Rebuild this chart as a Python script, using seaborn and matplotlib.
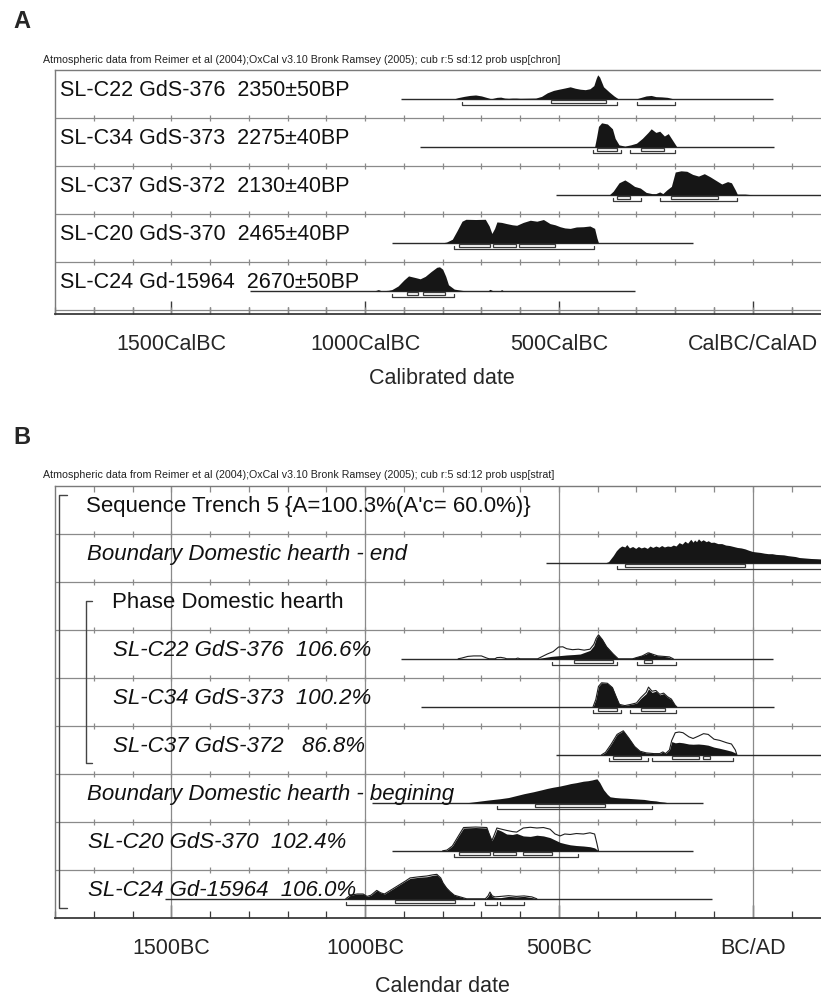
import numpy as np
import pandas as pd
import matplotlib
matplotlib.use("Agg")
import matplotlib.pyplot as plt
from matplotlib.patches import Rectangle
from matplotlib.ticker import FixedLocator, MultipleLocator, FixedFormatter
import seaborn as sns

sns.set_theme(style="white")
plt.rcParams['font.family'] = ['Liberation Sans', 'DejaVu Sans']

# ---------------- data ----------------
header_a = "Atmospheric data from Reimer et al (2004);OxCal v3.10 Bronk Ramsey (2005); cub r:5 sd:12 prob usp[chron]"
header_b = "Atmospheric data from Reimer et al (2004);OxCal v3.10 Bronk Ramsey (2005); cub r:5 sd:12 prob usp[strat]"
major_years = [-1500, -1000, -500, 0]
ticklabels_a = ["1500CalBC", "1000CalBC", "500CalBC", "CalBC/CalAD"]
ticklabels_b = ["1500BC", "1000BC", "500BC", "BC/AD"]
xlabel_a = "Calibrated date"
xlabel_b = "Calendar date"

labels_a = ["SL-C22 GdS-376  2350\u00b150BP", "SL-C34 GdS-373  2275\u00b140BP",
            "SL-C37 GdS-372  2130\u00b140BP", "SL-C20 GdS-370  2465\u00b140BP",
            "SL-C24 Gd-15964  2670\u00b150BP"]
span_a = [(-907, 51), (-858, 56), (-507, 300), (-931, -153), (-1297, -303)]

a_c22_year = [-770, -760, -745, -730, -715, -700, -685, -675, -660, -650, -640, -630, -620, -610, -600, -560,
              -545, -530, -514, -500, -485, -471, -458, -445, -432, -420, -410, -404, -400, -395, -385, -370,
              -358, -347, -300, -290, -275, -262, -250, -235, -220, -205]
a_c22_prob = [0, 0.05, 0.1, 0.14, 0.16, 0.12, 0.05, 0, 0.06, 0.07, 0.03, 0.02, 0.03, 0.03, 0.02, 0.03,
              0.1, 0.25, 0.35, 0.4, 0.45, 0.5, 0.44, 0.4, 0.38, 0.42, 0.55, 0.85, 1.0, 0.9, 0.5, 0.28,
              0.12, 0, 0, 0.05, 0.12, 0.14, 0.09, 0.08, 0.06, 0]
a_c22_r68 = [(-520, -379)]
a_c22_r95 = [(-751, -349), (-299, -200)]

a_c34_year = [-408, -403, -398, -390, -375, -362, -355, -345, -330, -315, -300, -285, -270, -262, -250, -240,
              -228, -218, -210, -200, -196]
a_c34_prob = [0, 0.4, 0.85, 1.0, 0.95, 0.75, 0.35, 0.08, 0.03, 0.08, 0.15, 0.35, 0.6, 0.75, 0.6, 0.65,
              0.45, 0.55, 0.35, 0.1, 0]
a_c34_r68 = [(-402, -350), (-288, -228)]
a_c34_r95 = [(-411, -340), (-318, -200)]

a_c37_year = [-370, -360, -345, -330, -318, -305, -290, -275, -260, -250, -240, -232, -222, -210, -200, -185,
              -170, -155, -140, -125, -110, -95, -80, -65, -55, -45, -40, -20, 0]
a_c37_prob = [0, 0.15, 0.5, 0.62, 0.5, 0.35, 0.28, 0.1, 0.05, 0.05, 0.12, 0.05, 0.2, 0.35, 0.95, 1.0,
              0.98, 0.85, 0.78, 0.88, 0.75, 0.6, 0.45, 0.55, 0.5, 0.2, 0.03, 0.03, 0]
a_c37_r68 = [(-351, -318), (-211, -89)]
a_c37_r95 = [(-361, -288), (-239, -40)]

a_c20_year = [-800, -790, -775, -763, -750, -740, -715, -690, -680, -673, -666, -660, -648, -635, -620, -609,
              -592, -574, -557, -540, -523, -510, -497, -485, -471, -455, -437, -420, -408, -402, -398]
a_c20_prob = [0, 0.03, 0.15, 0.5, 0.9, 0.98, 0.97, 0.98, 0.7, 0.39, 0.6, 0.87, 0.85, 0.8, 0.75, 0.73,
              0.85, 0.94, 0.9, 0.97, 0.8, 0.75, 0.67, 0.62, 0.6, 0.66, 0.67, 0.7, 0.6, 0.2, 0]
a_c20_r68 = [(-759, -679), (-671, -610), (-602, -509)]
a_c20_r95 = [(-770, -409)]

a_c24_year = [-975, -966, -958, -940, -931, -915, -900, -888, -870, -858, -845, -830, -815, -808, -800, -792,
              -785, -770, -751, -740, -683, -678, -670, -652, -648, -643]
a_c24_prob = [0, 0.05, 0, 0.02, 0.05, 0.2, 0.45, 0.62, 0.55, 0.5, 0.6, 0.8, 0.98, 1.0, 0.9, 0.6,
              0.25, 0.07, 0.02, 0, 0, 0.06, 0, 0, 0.05, 0]
a_c24_r68 = [(-893, -864), (-850, -795)]
a_c24_r95 = [(-931, -770)]

labels_b = ["Sequence Trench 5 {A=100.3%(A'c= 60.0%)}", "Boundary Domestic hearth - end",
            "Phase Domestic hearth", "SL-C22 GdS-376  106.6%", "SL-C34 GdS-373  100.2%",
            "SL-C37 GdS-372   86.8%", "Boundary Domestic hearth - begining",
            "SL-C20 GdS-370  102.4%", "SL-C24 Gd-15964  106.0%"]
italic_b = [False, True, False, True, True, True, True, True, True]
label_x_b = [-1719, -1717, -1652, -1650, -1650, -1650, -1717, -1714, -1714]
span_b = [None, (-533, 300), None, (-907, 51), (-856, 55), (-507, 300), (-981, -129), (-931, -153), (-1516, -106)]

b_end_year = [-380, -372, -360, -352, -345, -338, -330, -325, -318, -310, -302, -295, -288, -280, -272, -265,
              -258, -250, -242, -235, -228, -220, -212, -205, -198, -190, -182, -175, -168, -160, -154, -150,
              -145, -140, -134, -128, -120, -115, -108, -100, -90, -80, -70, -60, -50, -40, -30, -20, -10, 0,
              10, 20, 30, 40, 50, 60, 70, 80, 90, 100, 110, 120, 135, 150, 165, 176, 200]
b_end_prob = [0, 0.05, 0.3, 0.5, 0.62, 0.7, 0.66, 0.76, 0.62, 0.68, 0.6, 0.68, 0.62, 0.66, 0.6, 0.7,
              0.64, 0.7, 0.65, 0.72, 0.66, 0.7, 0.68, 0.74, 0.7, 0.84, 0.78, 0.9, 0.82, 0.98, 0.86, 0.95,
              0.88, 1.0, 0.9, 0.96, 0.88, 0.92, 0.85, 0.86, 0.8, 0.8, 0.74, 0.72, 0.68, 0.64, 0.62, 0.58, 0.52, 0.47,
              0.45, 0.43, 0.4, 0.38, 0.38, 0.35, 0.34, 0.33, 0.3, 0.28, 0.26, 0.22, 0.2, 0.18, 0.17, 0.16, 0.15]
b_end_r68 = [(-329, -20)]
b_end_r95 = [(-351, 400)]

b_c22_year = [-560, -540, -520, -500, -480, -460, -445, -420, -410, -404, -398, -388, -377, -360, -347,
              -315, -305, -290, -275, -267, -255, -240, -220, -205]
b_c22_prob = [0, 0.05, 0.1, 0.13, 0.16, 0.18, 0.2, 0.35, 0.55, 0.85, 1.0, 0.8, 0.5, 0.2, 0,
              0, 0.05, 0.12, 0.2, 0.28, 0.15, 0.12, 0.08, 0]
b_c22_prior_year = [-760, -751, -735, -720, -700, -686, -680, -665, -660, -650, -640, -635, -612, -606, -600,
                    -555, -545, -530, -515, -501, -490, -480, -465, -450, -435, -420, -410, -404, -398, -388,
                    -377, -360, -347, -310, -300, -285, -270, -260, -245, -230, -215, -205]
b_c22_prior_prob = [0, 0.03, 0.1, 0.12, 0.12, 0.03, 0, 0, 0.05, 0.06, 0.03, 0, 0, 0.03, 0,
                    0, 0.08, 0.2, 0.3, 0.49, 0.5, 0.42, 0.38, 0.4, 0.36, 0.4, 0.6, 0.85, 1.0, 0.8,
                    0.5, 0.2, 0, 0, 0.05, 0.12, 0.25, 0.2, 0.12, 0.1, 0.08, 0]
b_c22_r68 = [(-460, -360), (-280, -259)]
b_c22_r95 = [(-518, -349), (-299, -199)]

b_c34_year = [-412, -405, -398, -390, -375, -362, -352, -344, -330, -315, -300, -289, -275, -269, -260, -250,
              -240, -230, -220, -210, -200, -196]
b_c34_prob = [0, 0.3, 0.85, 1.0, 0.98, 0.8, 0.4, 0.1, 0.05, 0.1, 0.15, 0.35, 0.55, 0.75, 0.6, 0.65,
              0.5, 0.55, 0.4, 0.3, 0.05, 0]
b_c34_prior_prob = [0, 0.3, 0.85, 1.0, 0.98, 0.8, 0.4, 0.1, 0.05, 0.1, 0.16, 0.38, 0.6, 0.82, 0.65, 0.68,
                    0.52, 0.57, 0.42, 0.32, 0.06, 0]
b_c34_r68 = [(-400, -351), (-289, -226)]
b_c34_r95 = [(-411, -340), (-318, -199)]

b_c37_year = [-390, -380, -365, -350, -334, -320, -305, -291, -275, -255, -240, -232, -225, -215, -209, -200,
              -190, -180, -165, -154, -140, -127, -115, -100, -85, -67, -55, -45, -41]
b_c37_prob = [0, 0.1, 0.45, 0.85, 1.0, 0.7, 0.35, 0.15, 0.08, 0.05, 0.05, 0.12, 0.05, 0.2, 0.55, 0.5,
              0.52, 0.5, 0.45, 0.44, 0.45, 0.43, 0.4, 0.32, 0.27, 0.2, 0.15, 0.08, 0]
b_c37_prior_prob = [0, 0.1, 0.45, 0.85, 1.0, 0.7, 0.35, 0.15, 0.08, 0.05, 0.05, 0.12, 0.05, 0.2, 0.6, 0.92,
                    0.95, 0.92, 0.75, 0.68, 0.78, 0.88, 0.85, 0.65, 0.6, 0.5, 0.45, 0.2, 0]
b_c37_r68 = [(-360, -289), (-209, -140), (-129, -110)]
b_c37_r95 = [(-370, -269), (-261, -50)]

b_beg_year = [-740, -729, -700, -680, -652, -630, -610, -590, -566, -545, -530, -515, -497, -480, -470, -455,
              -437, -425, -415, -408, -402, -395, -385, -375, -368, -355, -340, -325, -308, -290, -280, -265,
              -250, -240, -228, -218]
b_beg_prob = [0, 0.02, 0.08, 0.12, 0.17, 0.22, 0.3, 0.38, 0.46, 0.54, 0.6, 0.65, 0.7, 0.76, 0.8, 0.84,
              0.9, 0.92, 0.95, 0.98, 1.0, 0.85, 0.55, 0.35, 0.25, 0.22, 0.2, 0.19, 0.17, 0.15, 0.14, 0.1,
              0.08, 0.05, 0.03, 0]
b_beg_r68 = [(-561, -381)]
b_beg_r95 = [(-660, -259)]

b_c20_year = [-800, -789, -775, -760, -746, -715, -686, -680, -673, -666, -660, -648, -635, -620, -609, -592,
              -574, -557, -540, -523, -510, -497, -485, -471, -455, -437, -420, -408, -402, -398]
b_c20_prob = [0, 0.03, 0.2, 0.6, 0.95, 0.97, 0.95, 0.7, 0.42, 0.65, 0.9, 0.82, 0.7, 0.68, 0.72, 0.62,
              0.6, 0.65, 0.62, 0.55, 0.45, 0.35, 0.3, 0.25, 0.22, 0.2, 0.17, 0.12, 0.05, 0]
b_c20_prior_prob = [0, 0.03, 0.2, 0.6, 0.97, 0.99, 0.97, 0.7, 0.42, 0.7, 0.95, 0.9, 0.85, 0.8, 0.78, 0.95,
                    0.98, 0.95, 0.97, 0.9, 0.7, 0.62, 0.7, 0.68, 0.72, 0.7, 0.75, 0.7, 0.3, 0]
b_c20_r68 = [(-759, -679), (-671, -610), (-592, -518)]
b_c20_r95 = [(-770, -450)]

b_c24_year = [-1050, -1038, -1020, -1005, -995, -985, -970, -960, -950, -930, -910, -895, -884, -860, -841,
              -825, -815, -805, -799, -790, -781, -770, -755, -738, -690, -683, -678, -672, -665, -650,
              -630, -610, -590, -570, -557]
b_c24_prob = [0, 0.15, 0.2, 0.2, 0.1, 0.15, 0.35, 0.25, 0.2, 0.4, 0.6, 0.75, 0.85, 0.9, 0.92,
              0.98, 1.0, 0.85, 0.65, 0.45, 0.3, 0.15, 0.08, 0, 0, 0.1, 0.25, 0.1, 0.05, 0.05,
              0.1, 0.08, 0.1, 0.05, 0]
b_c24_prior_prob = [0, 0.15, 0.2, 0.2, 0.1, 0.15, 0.35, 0.25, 0.2, 0.4, 0.6, 0.75, 0.87, 0.92, 0.95,
                    1.0, 1.02, 0.87, 0.66, 0.45, 0.3, 0.15, 0.08, 0, 0, 0.12, 0.28, 0.12, 0.08, 0.1,
                    0.13, 0.1, 0.12, 0.08, 0]
b_c24_r68 = [(-922, -769)]
b_c24_r95 = [(-1050, -719), (-692, -661), (-652, -591)]

# ---------------- layout ----------------
W, H = 821, 998
X0, X1 = -1800, 176
ROW_PX = 48
BASE = 0.6        # baseline position within a row
PEAK = 0.5        # max height of a distribution (row units)
FILL = '#161616'
GRID = '#8a8a8a'
LINE = '#2a2a2a'


def fig_rect(left_px, top_px, right_px, bottom_px):
    return [left_px / W, 1 - bottom_px / H, (right_px - left_px) / W, (bottom_px - top_px) / H]


fig = plt.figure(figsize=(W / 100, H / 100), dpi=100)
axA = fig.add_axes(fig_rect(55, 70, 821, 314))
axB = fig.add_axes(fig_rect(55, 486, 821, 918))
nA = (314 - 70) / ROW_PX
nB = (918 - 486) / ROW_PX


def setup_axis(ax, nrows, labels, top_ticks):
    ax.set_xlim(X0, X1)
    ax.set_ylim(nrows, 0)
    ax.set_facecolor('white')
    ax.spines['right'].set_visible(False)
    for s in ['left', 'top']:
        ax.spines[s].set_color('#7a7a7a')
        ax.spines[s].set_linewidth(1.0)
    ax.spines['bottom'].set_color('#3a3a3a')
    ax.spines['bottom'].set_linewidth(1.3)
    ax.yaxis.set_visible(False)
    ax.xaxis.set_major_locator(FixedLocator(major_years))
    ax.xaxis.set_major_formatter(FixedFormatter(labels))
    ax.xaxis.set_minor_locator(MultipleLocator(100))
    ax.tick_params(axis='x', which='major', direction='in', length=9.4, width=1.0,
                   color='#3a3a3a', labelsize=15.5, pad=14.5, bottom=True, top=False)
    ax.tick_params(axis='x', which='minor', direction='in', length=5.0, width=0.9,
                   color='#3a3a3a', bottom=True, top=False)
    ticks = np.arange(-1700, 200, 100)
    nsep = int(np.ceil(nrows - 1e-6))
    for r in range(1, nsep):
        ax.axhline(r, color=GRID, lw=0.9, zorder=1)
        ax.vlines(ticks, r - 0.06, r + 0.06, color=GRID, lw=0.9, zorder=1)
    if top_ticks:
        ax.vlines(ticks, 0, 0.12, color=GRID, lw=0.9, zorder=1)


def draw_row(ax, row, span, years, probs, r68, r95, prior=None):
    yb = row + BASE
    if span is not None:
        ax.hlines(yb, span[0], span[1], color=LINE, lw=1.0, zorder=2)
    if years is None:
        return
    df = pd.DataFrame({'year': years, 'p': probs})
    df['y'] = yb - df['p'] * PEAK
    ax.fill_between(df['year'], yb, df['y'], color=FILL, lw=0, zorder=3)
    if prior is not None:
        dp = pd.DataFrame({'year': prior[0], 'y': yb - np.asarray(prior[1]) * PEAK})
        sns.lineplot(data=dp, x='year', y='y', ax=ax, color='#1e1e1e', lw=0.8,
                     sort=False, estimator=None, zorder=4)
    for a, b in r68:
        ax.add_patch(Rectangle((a, yb + 0.025), b - a, 0.06, fill=False,
                               ec='#3a3a3a', lw=0.9, zorder=4))
    for a, b in r95:
        ax.plot([a, a, b, b], [yb + 0.07, yb + 0.125, yb + 0.125, yb + 0.07],
                color='#3a3a3a', lw=0.9, zorder=4)
    ax.set_xlabel('')
    ax.set_ylabel('')


# ---------------- Panel A ----------------
setup_axis(axA, nA, ticklabels_a, top_ticks=False)
rows_a = [(a_c22_year, a_c22_prob, a_c22_r68, a_c22_r95),
          (a_c34_year, a_c34_prob, a_c34_r68, a_c34_r95),
          (a_c37_year, a_c37_prob, a_c37_r68, a_c37_r95),
          (a_c20_year, a_c20_prob, a_c20_r68, a_c20_r95),
          (a_c24_year, a_c24_prob, a_c24_r68, a_c24_r95)]
for i, (yr, pr, r68, r95) in enumerate(rows_a):
    draw_row(axA, i, span_a[i], yr, pr, r68, r95)
    axA.text(-1787, i + 0.55, labels_a[i], fontsize=15.5, va='baseline', ha='left',
             color='#111111', zorder=5)

# ---------------- Panel B ----------------
setup_axis(axB, nB, ticklabels_b, top_ticks=True)
for yr in major_years:
    axB.axvline(yr, color=GRID, lw=0.9, zorder=1)
rows_b = [None,
          (b_end_year, b_end_prob, b_end_r68, b_end_r95, None),
          None,
          (b_c22_year, b_c22_prob, b_c22_r68, b_c22_r95, (b_c22_prior_year, b_c22_prior_prob)),
          (b_c34_year, b_c34_prob, b_c34_r68, b_c34_r95, (b_c34_year, b_c34_prior_prob)),
          (b_c37_year, b_c37_prob, b_c37_r68, b_c37_r95, (b_c37_year, b_c37_prior_prob)),
          (b_beg_year, b_beg_prob, b_beg_r68, b_beg_r95, None),
          (b_c20_year, b_c20_prob, b_c20_r68, b_c20_r95, (b_c20_year, b_c20_prior_prob)),
          (b_c24_year, b_c24_prob, b_c24_r68, b_c24_r95, (b_c24_year, b_c24_prior_prob))]
for i, rd in enumerate(rows_b):
    if rd is not None:
        yr, pr, r68, r95, prior = rd
        draw_row(axB, i, span_b[i], yr, pr, r68, r95, prior)
    axB.text(label_x_b[i], i + 0.55, labels_b[i], fontsize=16, va='baseline', ha='left',
             style='italic' if italic_b[i] else 'normal', color='#111111', zorder=5)

# brackets for sequence / phase
axB.plot([-1768, -1789, -1789, -1768], [0.19, 0.19, 8.79, 8.79], color='#444444', lw=1.0, zorder=5)
axB.plot([-1704, -1720, -1720, -1704], [2.39, 2.39, 5.77, 5.77], color='#444444', lw=1.0, zorder=5)

# ---------------- annotations ----------------
fig.text(13 / W, 1 - 22 / H, "A", fontsize=17, fontweight='bold', va='center', ha='left')
fig.text(13 / W, 1 - 438 / H, "B", fontsize=17, fontweight='bold', va='center', ha='left')
fig.text(43 / W, 1 - 60 / H, header_a, fontsize=7.7, va='center', ha='left', color='#222222')
fig.text(43 / W, 1 - 475 / H, header_b, fontsize=7.7, va='center', ha='left', color='#222222')
fig.text(442 / W, 1 - 378 / H, xlabel_a, fontsize=15.5, va='center', ha='center')
fig.text(442 / W, 1 - 986 / H, xlabel_b, fontsize=15.5, va='center', ha='center')

fig.savefig("out.png", dpi=100, facecolor='white')
